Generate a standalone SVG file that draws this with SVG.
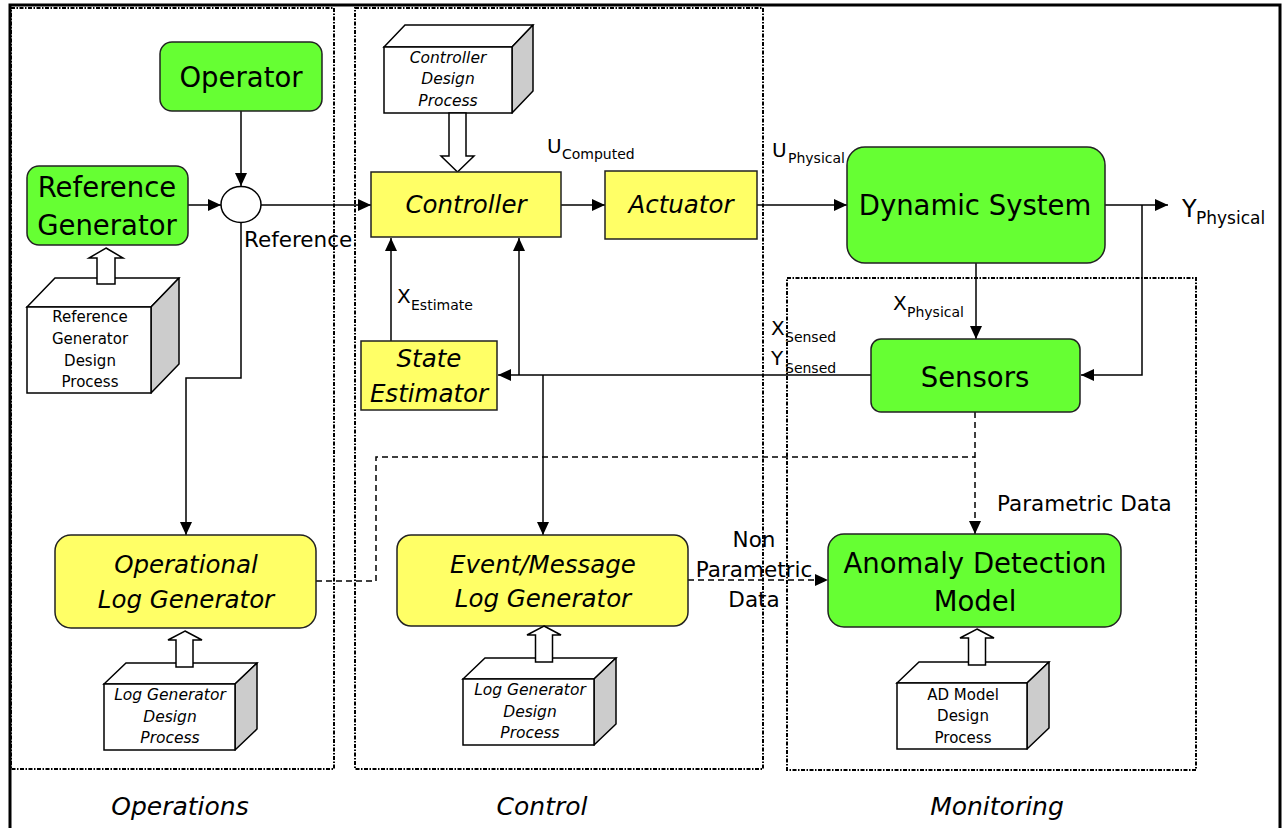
<svg xmlns="http://www.w3.org/2000/svg" width="1283" height="828" viewBox="0 0 1283 828">
<style>
text{font-family:"DejaVu Sans","Liberation Sans",sans-serif;fill:#000}
.big{font-size:27.5px;text-anchor:middle}
.it{font-size:24.5px;font-style:italic;text-anchor:middle}
.cube{font-size:15px;text-anchor:middle}
.cubei{font-size:15.5px;font-style:italic;text-anchor:middle}
.lab{font-size:21.5px}
.labc{font-size:21.5px;text-anchor:middle}
.sym{font-size:20px}
.sub{font-size:14px}
.sec{font-size:25px;font-style:italic;text-anchor:middle}
.g{fill:#66ff33;stroke:#222;stroke-width:1.5}
.y{fill:#ffff66;stroke:#222;stroke-width:1.5}
.panel{fill:none;stroke:#000;stroke-width:2;stroke-dasharray:4 1.5 1.5 1.5}
.c{fill:none;stroke:#000;stroke-width:1.5}
.d{fill:none;stroke:#000;stroke-width:1.5;stroke-dasharray:6 4}
.front{fill:#fff;stroke:#000;stroke-width:1.5}
.side{fill:#ccc;stroke:#000;stroke-width:1.5;stroke-linejoin:round}
.hol{fill:#fff;stroke:#000;stroke-width:1.5}
</style>
<defs>
<marker id="ar" markerUnits="userSpaceOnUse" markerWidth="14" markerHeight="12" refX="13" refY="6" orient="auto">
<path d="M0,0 L13,6 L0,12 z" fill="#000"/>
</marker>
</defs>
<rect x="0" y="0" width="1283" height="828" fill="#fff"/>
<rect x="10" y="5" width="1270" height="840" fill="none" stroke="#000" stroke-width="3"/>
<g id="panels">
<rect class="panel" x="11" y="8" width="323" height="761"/>
<rect class="panel" x="355" y="8" width="408" height="761"/>
<rect class="panel" x="787" y="278" width="409" height="492"/>
</g>
<g id="connectors">
<line class="c" x1="241" y1="111" x2="241" y2="186" marker-end="url(#ar)"/>
<line class="c" x1="188" y1="205" x2="221" y2="205" marker-end="url(#ar)"/>
<line class="c" x1="261" y1="205" x2="371" y2="205" marker-end="url(#ar)"/>
<polyline class="c" points="241,223 241,378 186,378 186,535" marker-end="url(#ar)"/>
<line class="c" x1="561" y1="205" x2="605" y2="205" marker-end="url(#ar)"/>
<line class="c" x1="757" y1="205" x2="847" y2="205" marker-end="url(#ar)"/>
<line class="c" x1="1105" y1="205" x2="1168" y2="205" marker-end="url(#ar)"/>
<polyline class="c" points="1142,205 1142,375 1081,375" marker-end="url(#ar)"/>
<line class="c" x1="976" y1="263" x2="976" y2="339" marker-end="url(#ar)"/>
<line class="c" x1="871" y1="375" x2="498" y2="375" marker-end="url(#ar)"/>
<line class="c" x1="519" y1="375" x2="519" y2="238" marker-end="url(#ar)"/>
<line class="c" x1="391" y1="348" x2="391" y2="238" marker-end="url(#ar)"/>
<line class="c" x1="543" y1="375" x2="543" y2="535" marker-end="url(#ar)"/>
<line class="d" x1="975" y1="412" x2="975" y2="534" marker-end="url(#ar)"/>
<polyline class="d" points="316,581 376,581 376,457 975,457"/>
<line class="d" x1="688" y1="580" x2="828" y2="580" marker-end="url(#ar)"/>
</g>
<g id="operator">
<rect class="g" x="160" y="42" width="162" height="69" rx="12"/>
<text class="big" x="241" y="87">Operator</text>
</g>
<g id="reference-generator">
<rect class="g" x="27" y="166" width="161" height="79" rx="12"/>
<text class="big" x="107" y="197">Reference</text>
<text class="big" x="107" y="235">Generator</text>
</g>
<g id="sum">
<ellipse cx="241" cy="204.5" rx="20" ry="18" fill="#fff" stroke="#000" stroke-width="1.5"/>
</g>
<g id="reference-label"><text class="lab" x="244" y="247">Reference</text></g>
<g id="refgen-design">
<polygon class="front" points="27,307 55,278 179,278 151,307"/>
<polygon class="side" points="151,307 179,278 179,364 151,393"/>
<rect class="front" x="27" y="307" width="124" height="86"/>
<text class="cube" x="90" y="322">Reference</text>
<text class="cube" x="90" y="344">Generator</text>
<text class="cube" x="90" y="366">Design</text>
<text class="cube" x="90" y="387">Process</text>
<polygon class="hol" points="106,248 123,258 115,258 115,284 97,284 97,258 89,258"/>
</g>
<g id="controller-design">
<polygon class="front" points="384,47 405,25 533,25 512,47"/>
<polygon class="side" points="512,47 533,25 533,91 512,113"/>
<rect class="front" x="384" y="47" width="128" height="66"/>
<text class="cubei" x="448" y="63">Controller</text>
<text class="cubei" x="448" y="84">Design</text>
<text class="cubei" x="448" y="106">Process</text>
<polygon class="hol" points="457.5,172 474,156 466,156 466,113 449,113 449,156 441,156"/>
</g>
<g id="controller">
<rect class="y" x="371" y="172" width="190" height="65"/>
<text class="it" x="466" y="213">Controller</text>
</g>
<g id="actuator">
<rect class="y" x="605" y="171" width="152" height="68"/>
<text class="it" x="681" y="213">Actuator</text>
</g>
<g id="u-computed"><text class="sym" x="547" y="153">U</text><text class="sub" x="562" y="159">Computed</text></g>
<g id="u-physical"><text class="sym" x="772" y="157">U</text><text class="sub" x="788" y="163">Physical</text></g>
<g id="dynamic-system">
<rect class="g" x="847" y="147" width="258" height="116" rx="18"/>
<text class="big" x="975" y="215">Dynamic System</text>
</g>
<g id="y-physical"><text x="1182" y="217" style="font-size:24px">Y</text><text x="1196" y="224" style="font-size:17px">Physical</text></g>
<g id="x-physical"><text class="sym" x="893" y="310">X</text><text class="sub" x="907" y="317">Physical</text></g>
<g id="sensed"><text class="sym" x="771" y="335">X</text><text class="sub" x="785" y="342">Sensed</text><text class="sym" x="771" y="365">Y</text><text class="sub" x="785" y="373">Sensed</text></g>
<g id="sensors">
<rect class="g" x="871" y="339" width="209" height="73" rx="10"/>
<text class="big" x="975" y="387">Sensors</text>
</g>
<g id="x-estimate"><text class="sym" x="397" y="303">X</text><text class="sub" x="411" y="310">Estimate</text></g>
<g id="state-estimator">
<rect class="y" x="361" y="341" width="136" height="69"/>
<text class="it" x="429" y="367">State</text>
<text class="it" x="429" y="402">Estimator</text>
</g>
<g id="operational-log">
<rect class="y" x="55" y="535" width="261" height="93" rx="16"/>
<text class="it" x="186" y="573">Operational</text>
<text class="it" x="186" y="608">Log Generator</text>
</g>
<g id="ops-log-design">
<polygon class="front" points="104,684 126,663 257,663 235,684"/>
<polygon class="side" points="235,684 257,663 257,729 235,750"/>
<rect class="front" x="104" y="684" width="131" height="66"/>
<text class="cubei" x="170" y="700">Log Generator</text>
<text class="cubei" x="170" y="722">Design</text>
<text class="cubei" x="170" y="743">Process</text>
<polygon class="hol" points="185,631 202,640 193,640 193,667 176,667 176,640 168,640"/>
</g>
<g id="event-log">
<rect class="y" x="397" y="535" width="291" height="91" rx="14"/>
<text class="it" x="543" y="573">Event/Message</text>
<text class="it" x="543" y="607">Log Generator</text>
</g>
<g id="ctl-log-design">
<polygon class="front" points="463,679 485,658 616,658 594,679"/>
<polygon class="side" points="594,679 616,658 616,724 594,745"/>
<rect class="front" x="463" y="679" width="131" height="66"/>
<text class="cubei" x="530" y="695">Log Generator</text>
<text class="cubei" x="530" y="717">Design</text>
<text class="cubei" x="530" y="738">Process</text>
<polygon class="hol" points="544,626 561,635 552.5,635 552.5,662 535.5,662 535.5,635 527,635"/>
</g>
<g id="non-parametric">
<text class="labc" x="754" y="547">Non</text>
<text class="labc" x="754" y="577">Parametric</text>
<text class="labc" x="754" y="607">Data</text>
</g>
<g id="parametric"><text class="lab" x="997" y="511">Parametric Data</text></g>
<g id="anomaly">
<rect class="g" x="828" y="534" width="293" height="93" rx="16"/>
<text class="big" x="975" y="573">Anomaly Detection</text>
<text class="big" x="975" y="611">Model</text>
</g>
<g id="ad-design">
<polygon class="front" points="897,683 919,662 1049,662 1027,683"/>
<polygon class="side" points="1027,683 1049,662 1049,728 1027,749"/>
<rect class="front" x="897" y="683" width="130" height="66"/>
<text class="cube" x="963" y="700">AD Model</text>
<text class="cube" x="963" y="721">Design</text>
<text class="cube" x="963" y="743">Process</text>
<polygon class="hol" points="977,629 994,638 985.5,638 985.5,665 968.5,665 968.5,638 960,638"/>
</g>
<g id="sections">
<text class="sec" x="180" y="815">Operations</text>
<text class="sec" x="542" y="815">Control</text>
<text class="sec" x="997" y="815">Monitoring</text>
</g>
</svg>
